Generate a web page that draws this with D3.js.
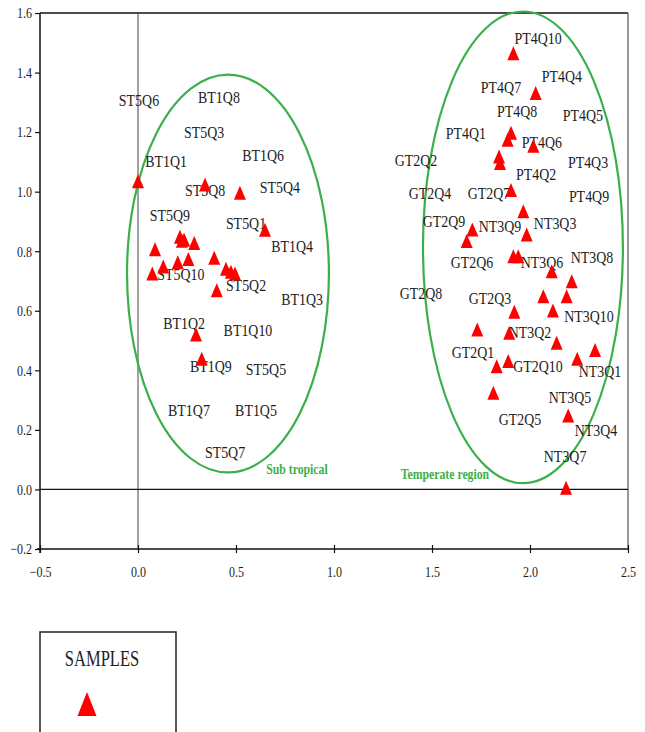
<!DOCTYPE html>
<html>
<head>
<meta charset="utf-8">
<script src="https://cdn.jsdelivr.net/npm/d3@7"></script>
<style>
  html, body { margin: 0; padding: 0; background: #fff; }
  svg { display: block; }
</style>
</head>
<body>
<div id="chart"></div>
<script>
// ---------- DATA ----------
const xTicks = [-0.5, 0.0, 0.5, 1.0, 1.5, 2.0, 2.5];
const yTicks = [-0.2, 0.0, 0.2, 0.4, 0.6, 0.8, 1.0, 1.2, 1.4, 1.6];

// sample points (triangles)
const sampleX = [
  0.000, 0.342, 0.520, 0.648, 0.214, 0.235, 0.224, 0.287, 0.087, 0.389,
  0.257, 0.203, 0.129, 0.073, 0.449, 0.474, 0.495, 0.402, 0.296, 0.325,
  1.915, 2.029, 1.903, 1.886, 2.017, 1.842, 1.847, 1.903, 1.966, 1.706,
  1.983, 1.677, 1.915, 1.940, 2.111, 2.213, 2.068, 2.187, 1.920, 2.117,
  1.731, 1.894, 2.136, 2.332, 2.241, 1.889, 1.830, 1.813, 2.195, 2.184
];
const sampleY = [
  1.035, 1.024, 0.996, 0.872, 0.849, 0.839, 0.835, 0.828, 0.807, 0.778,
  0.774, 0.763, 0.749, 0.725, 0.741, 0.731, 0.725, 0.669, 0.520, 0.439,
  1.465, 1.331, 1.198, 1.174, 1.154, 1.118, 1.096, 1.006, 0.934, 0.873,
  0.856, 0.834, 0.783, 0.783, 0.733, 0.699, 0.649, 0.649, 0.597, 0.601,
  0.537, 0.526, 0.493, 0.468, 0.439, 0.431, 0.414, 0.325, 0.248, 0.006
];

// sample name labels
const labelNames = [
  "ST5Q6","BT1Q8","ST5Q3","BT1Q6","BT1Q1","ST5Q8","ST5Q4","ST5Q9","ST5Q1","BT1Q4",
  "ST5Q10","ST5Q2","BT1Q3","BT1Q2","BT1Q10","BT1Q9","ST5Q5","BT1Q7","BT1Q5","ST5Q7",
  "PT4Q10","PT4Q7","PT4Q4","PT4Q8","PT4Q5","PT4Q1","PT4Q6","GT2Q2","PT4Q3","PT4Q2",
  "GT2Q4","GT2Q7","PT4Q9","GT2Q9","NT3Q9","NT3Q3","GT2Q6","NT3Q6","NT3Q8","GT2Q8",
  "GT2Q3","NT3Q10","NT3Q2","GT2Q1","GT2Q10","NT3Q1","NT3Q5","GT2Q5","NT3Q4","NT3Q7"
];
const labelX = [
  0.005, 0.413, 0.337, 0.638, 0.143, 0.342, 0.724, 0.163, 0.551, 0.786,
  0.219, 0.551, 0.837, 0.235, 0.561, 0.372, 0.653, 0.260, 0.602, 0.444,
  2.041, 1.852, 2.163, 1.934, 2.270, 1.673, 2.061, 1.418, 2.296, 2.031,
  1.490, 1.791, 2.301, 1.561, 1.847, 2.128, 1.704, 2.061, 2.316, 1.444,
  1.796, 2.301, 2.000, 1.709, 2.041, 2.357, 2.204, 1.949, 2.337, 2.179
];
const labelY = [
  1.309, 1.319, 1.201, 1.124, 1.104, 1.007, 1.017, 0.923, 0.896, 0.819,
  0.725, 0.688, 0.641, 0.560, 0.534, 0.416, 0.403, 0.268, 0.268, 0.124,
  1.517, 1.352, 1.389, 1.272, 1.259, 1.198, 1.168, 1.107, 1.101, 1.058,
  0.997, 0.997, 0.984, 0.900, 0.883, 0.896, 0.765, 0.765, 0.782, 0.661,
  0.644, 0.584, 0.527, 0.460, 0.413, 0.396, 0.309, 0.235, 0.201, 0.111
];

// group ellipses (centre and radii in data units) and their labels
const groupNames = ["Sub tropical", "Temperate region"];
const groupCX = [0.459, 1.964];
const groupCY = [0.725, 0.813];
const groupRX = [0.515, 0.510];
const groupRY = [0.668, 0.792];
const groupLabelX = [0.811, 1.566];
const groupLabelY = [0.070, 0.050];

const legendTitle = "SAMPLES";

// ---------- LAYOUT ----------
const W = 645, H = 732;
const svg = d3.select("#chart").append("svg")
  .attr("width", W).attr("height", H)
  .style("background", "#fff");

const x = d3.scaleLinear().domain([-0.5, 2.5]).range([40, 628]);
const y = d3.scaleLinear().domain([-0.2, 1.6]).range([549, 13]);

const serif = "'Liberation Serif', 'Times New Roman', serif";
const green = "#3bb04a";
const textCol = "#1c1c1c";

// frame (top and right)
svg.append("line").attr("x1", x(-0.5)).attr("x2", x(2.5)).attr("y1", y(1.6)).attr("y2", y(1.6))
  .attr("stroke", "#111").attr("stroke-width", 1.5);
svg.append("line").attr("x1", x(2.5)).attr("x2", x(2.5)).attr("y1", y(1.6)).attr("y2", y(-0.2))
  .attr("stroke", "#555").attr("stroke-width", 1.2);

// reference lines at 0
svg.append("line").attr("x1", x(0)).attr("x2", x(0)).attr("y1", y(1.6)).attr("y2", y(-0.2))
  .attr("stroke", "#444").attr("stroke-width", 1);
svg.append("line").attr("x1", x(-0.5)).attr("x2", x(2.5)).attr("y1", y(0)).attr("y2", y(0))
  .attr("stroke", "#111").attr("stroke-width", 1.2);

// y axis
const yAxis = d3.axisLeft(y).tickValues(yTicks).tickFormat(d3.format(".1f")).tickSize(5).tickSizeOuter(0);
const gy = svg.append("g").attr("transform", `translate(${x(-0.5)},0)`).call(yAxis);
gy.select(".domain").attr("stroke", "#111").attr("stroke-width", 1.5)
  .attr("d", `M0,${y(1.6)}V${y(-0.2) + 4}`);
gy.selectAll(".tick line").attr("stroke", "#111").attr("stroke-width", 1.2);
gy.selectAll(".tick text")
  .attr("font-family", serif).attr("font-size", 15).attr("fill", textCol)
  .attr("x", 0).attr("dy", "0.32em")
  .attr("transform", "translate(-8,0) scale(0.8,1)");

// x axis
const xAxis = d3.axisBottom(x).tickValues(xTicks).tickFormat(d3.format(".1f")).tickSize(4).tickSizeOuter(0);
const gx = svg.append("g").attr("transform", `translate(0,${y(-0.2)})`).call(xAxis);
gx.select(".domain").attr("stroke", "#111").attr("stroke-width", 1.5)
  .attr("d", `M${x(-0.5) - 3},0H${x(2.5)}`);
gx.selectAll(".tick line").attr("stroke", "#111").attr("stroke-width", 1.2)
  .attr("y1", -4).attr("y2", 4);
gx.selectAll(".tick text")
  .attr("font-family", serif).attr("font-size", 15).attr("fill", textCol)
  .attr("y", 0).attr("dy", 0)
  .attr("transform", "translate(0,28) scale(0.8,1)");

// ellipses
groupNames.forEach((g, i) => {
  svg.append("ellipse")
    .attr("cx", x(groupCX[i])).attr("cy", y(groupCY[i]))
    .attr("rx", x(groupCX[i] + groupRX[i]) - x(groupCX[i]))
    .attr("ry", y(groupCY[i]) - y(groupCY[i] + groupRY[i]))
    .attr("fill", "none").attr("stroke", green).attr("stroke-width", 2.2);
  svg.append("text")
    .attr("transform", `translate(${x(groupLabelX[i])},${y(groupLabelY[i])}) scale(0.84,1)`)
    .attr("text-anchor", "middle").attr("dy", "0.35em")
    .attr("font-family", serif).attr("font-weight", "bold").attr("font-size", 14)
    .attr("fill", green).text(g);
});

// sample labels
svg.append("g").selectAll("text").data(labelNames).join("text")
  .attr("transform", (d, i) => `translate(${x(labelX[i])},${y(labelY[i])}) scale(0.82,1)`)
  .attr("text-anchor", "middle").attr("dy", "0.35em")
  .attr("font-family", serif).attr("font-size", 17).attr("fill", textCol)
  .text(d => d);

// triangles
const tri = (w, h) => `M0,${-h / 2}L${w / 2},${h / 2}L${-w / 2},${h / 2}Z`;
svg.append("g").selectAll("path").data(sampleX).join("path")
  .attr("d", tri(12, 14))
  .attr("transform", (d, i) => `translate(${x(sampleX[i])},${y(sampleY[i])})`)
  .attr("fill", "#ff0000");

// legend
const lg = svg.append("g");
lg.append("path")
  .attr("d", `M40,${H + 10}V632H176V${H + 10}`)
  .attr("fill", "none").attr("stroke", "#222").attr("stroke-width", 1.5);
lg.append("text")
  .attr("transform", "translate(102,666) scale(0.72,1)")
  .attr("text-anchor", "middle")
  .attr("font-family", serif).attr("font-size", 23).attr("fill", textCol)
  .text(legendTitle);
lg.append("path")
  .attr("d", tri(19, 24))
  .attr("transform", "translate(87,704)")
  .attr("fill", "#ff0000");
</script>
</body>
</html>
